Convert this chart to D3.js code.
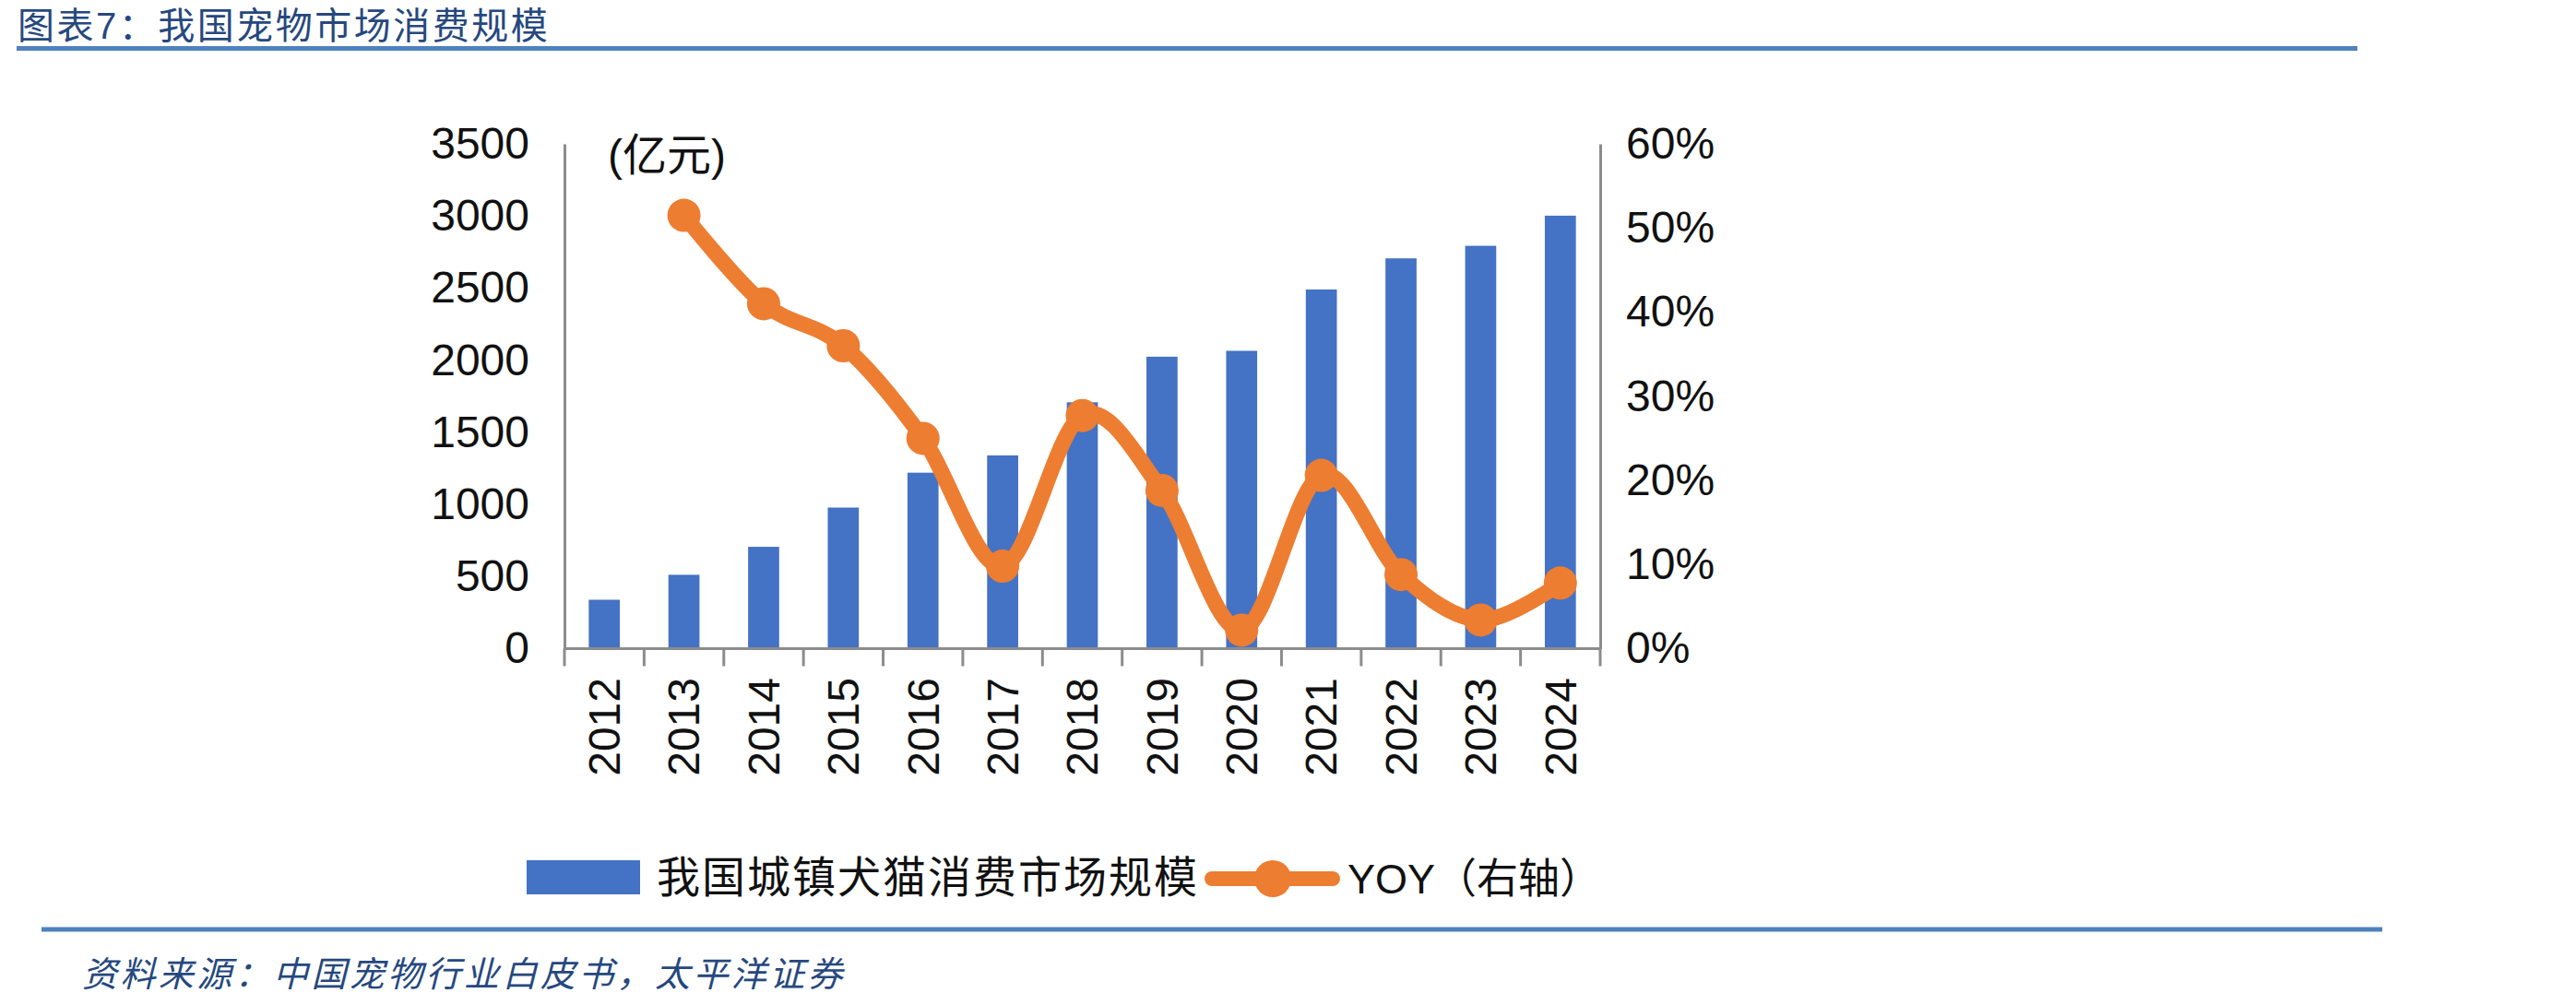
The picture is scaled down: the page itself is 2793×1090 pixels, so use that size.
<!DOCTYPE html>
<html>
<head>
<meta charset="utf-8">
<script src="https://cdn.jsdelivr.net/npm/d3@7"></script>
<style>
  body { margin: 0; background: #fff; }
  text { font-family: "Liberation Sans", Arial, "Noto Sans CJK SC", sans-serif; }
  .cjk { font-family: "Liberation Sans", "Noto Sans CJK SC", sans-serif; }
</style>
</head>
<body>
<svg id="chart" width="2793" height="1090"></svg>
<script>
// data
const years = ["2012","2013","2014","2015","2016","2017","2018","2019","2020","2021","2022","2023","2024"];
const marketSize = [339, 512, 706, 978, 1220, 1340, 1708, 2024, 2065, 2490, 2706, 2793, 3002];
const yoy = [null, 0.515, 0.41, 0.36, 0.25, 0.098, 0.277, 0.188, 0.022, 0.206, 0.088, 0.034, 0.078];
const leftTicks = [0, 500, 1000, 1500, 2000, 2500, 3000, 3500];
const rightTicks = [0, 0.1, 0.2, 0.3, 0.4, 0.5, 0.6];

const svg = d3.select("#chart");
const plotL = 612, plotR = 1735, plotT = 156, plotB = 703.5;
const axisColor = "#8c8c8c";

const x = d3.scaleBand().domain(years).range([plotL, plotR])
  .paddingInner(0.61).paddingOuter(0.305);
const yL = d3.scaleLinear().domain([0, 3500]).range([plotB, plotT]);
const yR = d3.scaleLinear().domain([0, 0.6]).range([plotB, plotT]);

// title + rule
svg.append("text").attr("class", "cjk")
  .attr("x", 19).attr("y", 28).attr("dy", "0.35em")
  .attr("font-size", 40).attr("letter-spacing", 2.5)
  .attr("fill", "#26487e")
  .text("图表7：我国宠物市场消费规模");
svg.append("line").attr("x1", 18).attr("x2", 2556).attr("y1", 52.5).attr("y2", 52.5)
  .attr("stroke", "#4f81bd").attr("stroke-width", 5);

// bars
svg.append("g").selectAll("rect").data(marketSize).join("rect")
  .attr("x", (d, i) => x(years[i]))
  .attr("width", x.bandwidth())
  .attr("y", d => yL(d))
  .attr("height", d => yL(0) - yL(d))
  .attr("fill", "#4472c4");

// left axis
const gl = svg.append("g").attr("transform", `translate(${plotL},0)`)
  .call(d3.axisLeft(yL).tickValues(leftTicks).tickFormat(d3.format("d"))
    .tickSize(0).tickPadding(38).tickSizeOuter(0));
gl.select(".domain").attr("stroke", axisColor).attr("stroke-width", 3);
gl.selectAll("text").attr("font-size", 48).attr("fill", "#111");

// right axis
const gr = svg.append("g").attr("transform", `translate(${plotR},0)`)
  .call(d3.axisRight(yR).tickValues(rightTicks).tickFormat(d3.format(".0%"))
    .tickSize(0).tickPadding(28).tickSizeOuter(0));
gr.select(".domain").attr("stroke", axisColor).attr("stroke-width", 3);
gr.selectAll("text").attr("font-size", 48).attr("fill", "#111");

// x axis: baseline, boundary ticks, rotated year labels
svg.append("line").attr("x1", plotL).attr("x2", plotR).attr("y1", plotB).attr("y2", plotB)
  .attr("stroke", axisColor).attr("stroke-width", 3);
const step = x.step();
svg.append("g").selectAll("line").data(d3.range(years.length + 1)).join("line")
  .attr("x1", i => plotL + i * step).attr("x2", i => plotL + i * step)
  .attr("y1", plotB).attr("y2", plotB + 19)
  .attr("stroke", axisColor).attr("stroke-width", 3);
svg.append("g").selectAll("text").data(years).join("text")
  .attr("transform", d => `translate(${x(d) + x.bandwidth() / 2},735) rotate(-90)`)
  .attr("text-anchor", "end").attr("dy", "0.35em")
  .attr("font-size", 48).attr("fill", "#111")
  .text(d => d);

// unit label
svg.append("text").attr("class", "cjk")
  .attr("x", 659).attr("y", 168).attr("dy", "0.35em")
  .attr("font-size", 48).attr("fill", "#111")
  .text("(亿元)");

// yoy line, smoothed like excel
const pts = yoy.map((v, i) => [x(years[i]) + x.bandwidth() / 2, v]).filter(p => p[1] !== null);
const line = d3.line().x(p => p[0]).y(p => yR(p[1])).curve(d3.curveCardinal.tension(0));
svg.append("path").attr("d", line(pts))
  .attr("fill", "none").attr("stroke", "#ed7d31").attr("stroke-width", 17)
  .attr("stroke-linejoin", "round").attr("stroke-linecap", "round");
svg.append("g").selectAll("circle").data(pts).join("circle")
  .attr("cx", p => p[0]).attr("cy", p => yR(p[1])).attr("r", 18)
  .attr("fill", "#ed7d31");

// legend
const lg = svg.append("g");
lg.append("rect").attr("x", 571).attr("y", 933).attr("width", 123).attr("height", 37)
  .attr("fill", "#4472c4");
lg.append("text").attr("class", "cjk")
  .attr("x", 712).attr("y", 952).attr("dy", "0.35em")
  .attr("font-size", 47).attr("letter-spacing", 2).attr("fill", "#111")
  .text("我国城镇犬猫消费市场规模");
lg.append("line").attr("x1", 1314).attr("x2", 1445).attr("y1", 953).attr("y2", 953)
  .attr("stroke", "#ed7d31").attr("stroke-width", 16).attr("stroke-linecap", "round");
lg.append("circle").attr("cx", 1380).attr("cy", 953).attr("r", 20).attr("fill", "#ed7d31");
lg.append("text").attr("class", "cjk")
  .attr("x", 1461).attr("y", 953).attr("dy", "0.35em")
  .attr("font-size", 45).attr("fill", "#111")
  .text("YOY（右轴）");

// bottom rule + source
svg.append("line").attr("x1", 45).attr("x2", 2583).attr("y1", 1008).attr("y2", 1008)
  .attr("stroke", "#4f81bd").attr("stroke-width", 5);
svg.append("text").attr("class", "cjk")
  .attr("x", 89).attr("y", 1057).attr("dy", "0.35em")
  .attr("font-size", 38).attr("letter-spacing", 3.4).attr("font-style", "italic")
  .attr("fill", "#26487e")
  .text("资料来源：中国宠物行业白皮书，太平洋证券");
</script>
</body>
</html>
